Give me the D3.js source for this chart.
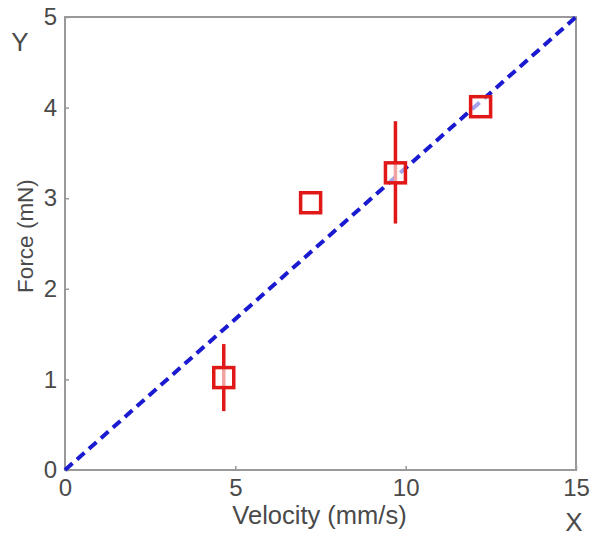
<!DOCTYPE html>
<html><head><meta charset="utf-8">
<script src="https://cdn.jsdelivr.net/npm/d3@7"></script>
<style>body{margin:0;background:#fff;}text{font-family:"Liberation Sans",Arial,sans-serif;}</style>
</head><body>
<svg id="c" width="602" height="542"></svg>
<script>
const velocity = [4.66, 7.21, 9.7, 12.2];
const force = [1.02, 2.95, 3.28, 4.01];
const errLow = [0.65, 2.95, 2.72, 4.01];
const errHigh = [1.39, 2.95, 3.85, 4.01];
const fitX = [0, 15];
const fitY = [0, 5];
const xTicks = [0, 5, 10, 15];
const yTicks = [0, 1, 2, 3, 4, 5];

const svg = d3.select("#c");
const L = 65, R = 576, T = 17, B = 470;
const x = d3.scaleLinear().domain([0, 15]).range([L, R]);
const y = d3.scaleLinear().domain([0, 5]).range([B, T]);
const axisCol = "#999", textCol = "#4a4a4a";

svg.append("rect").attr("x", L).attr("y", T).attr("width", R - L).attr("height", B - T)
  .attr("fill", "none").attr("stroke", axisCol).attr("stroke-width", 2);

const gx = svg.append("g").attr("transform", `translate(0,${B})`)
  .call(d3.axisBottom(x).tickValues(xTicks).tickFormat(d3.format("d")).tickSizeInner(-4).tickSizeOuter(0).tickPadding(9));
const gy = svg.append("g").attr("transform", `translate(${L},0)`)
  .call(d3.axisLeft(y).tickValues(yTicks).tickFormat(d3.format("d")).tickSizeInner(-4).tickSizeOuter(0).tickPadding(8));
[gx, gy].forEach(g => {
  g.attr("font-size", null).attr("font-family", null);
  g.select(".domain").remove();
  g.selectAll("line").attr("stroke", axisCol).attr("stroke-width", 1.5);
  g.selectAll("text").attr("fill", textCol).attr("font-size", 24);
});

// fit line
svg.append("line").attr("x1", x(fitX[0])).attr("y1", y(fitY[0])).attr("x2", x(fitX[1])).attr("y2", y(fitY[1]))
  .attr("stroke", "#1a1ad0").attr("stroke-width", 4).attr("stroke-dasharray", "10,6");

// error bars
svg.append("g").selectAll("line").data(velocity).join("line")
  .attr("x1", d => x(d)).attr("x2", d => x(d))
  .attr("y1", (d, i) => y(errLow[i])).attr("y2", (d, i) => y(errHigh[i]))
  .attr("stroke", "#e01818").attr("stroke-width", 3.5);

// markers
const s = 20;
svg.append("g").selectAll("rect").data(velocity).join("rect")
  .attr("x", d => x(d) - s / 2).attr("y", (d, i) => y(force[i]) - s / 2)
  .attr("width", s).attr("height", s)
  .attr("fill", "#fff").attr("fill-opacity", 0.6).attr("stroke", "#e01818").attr("stroke-width", 3.5);

svg.append("text").attr("x", x(7.5) - 1).attr("y", 524).attr("text-anchor", "middle")
  .attr("fill", textCol).attr("font-size", 25.5).text("Velocity (mm/s)");
svg.append("text").attr("transform", `translate(33,236) rotate(-90)`).attr("text-anchor", "middle")
  .attr("fill", textCol).attr("font-size", 22.5).text("Force (mN)");
svg.append("text").attr("x", 20).attr("y", 51).attr("text-anchor", "middle")
  .attr("fill", textCol).attr("font-size", 26).text("Y");
svg.append("text").attr("x", 574).attr("y", 531).attr("text-anchor", "middle")
  .attr("fill", textCol).attr("font-size", 26).text("X");
</script>
</body></html>
